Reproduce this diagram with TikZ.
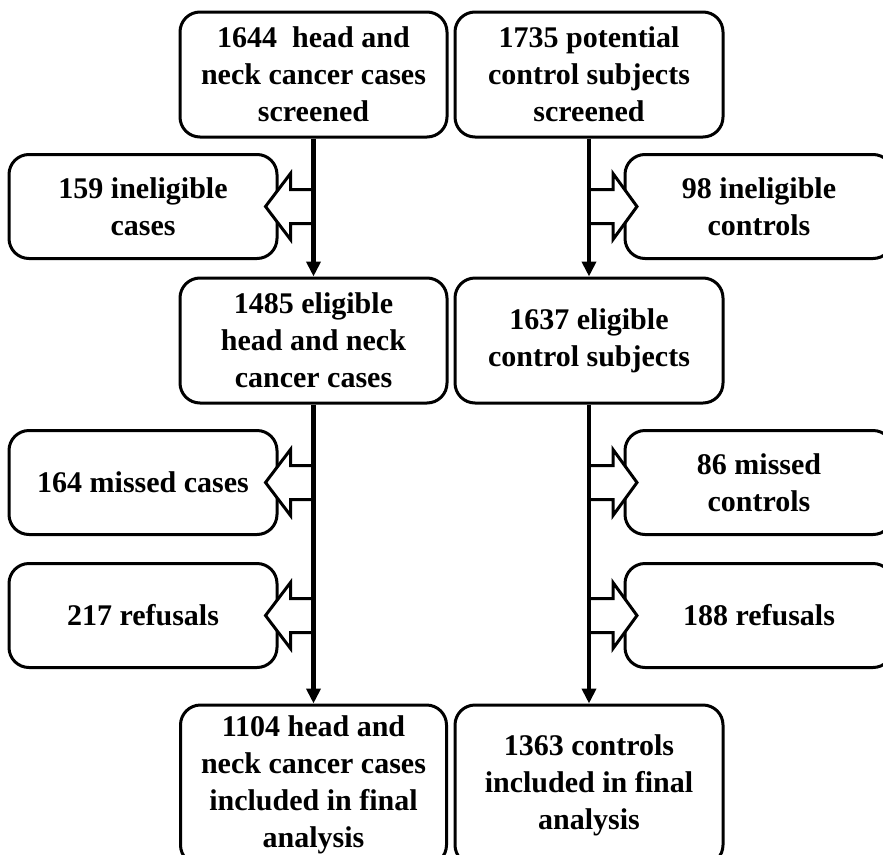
\documentclass[tikz,border=0pt]{standalone}
\usepackage{fontspec}
\setmainfont{Liberation Serif}
\usetikzlibrary{arrows.meta}
\begin{document}
\begin{tikzpicture}[x=1pt,y=-1pt,
  box/.style={draw, line width=3pt, rounded corners=20pt, align=center,
    font=\fontsize{30}{37}\selectfont\bfseries, inner sep=0pt},
  mainbox/.style={box, minimum width=267pt, minimum height=125pt},
  sidebox/.style={box, minimum width=268pt, minimum height=104pt},
  endbox/.style={box, minimum width=266pt, minimum height=160pt},
  flow/.style={line width=4.3pt, -{Triangle[length=15pt,width=14pt]}},
  barrow/.style={draw, fill=white, line width=3pt, miter limit=10},
  barrowL/.pic={\path[barrow] (0,-17) -- (-23,-17) -- (-23,-33) -- (-48,0) -- (-23,33) -- (-23,17) -- (0,17);},
  barrowR/.pic={\path[barrow] (0,-17) -- (24,-17) -- (24,-33) -- (48,0) -- (24,33) -- (24,17) -- (0,17);}]
\useasboundingbox (0,0) rectangle (883,854);
\clip (0,0) rectangle (883,854);
% main column boxes
\node[mainbox] (A) at (313.5,74.5) {1644 \ head and\\neck cancer cases\\screened};
\node[mainbox, minimum width=268pt] (B) at (589,74.5) {1735 potential\\control subjects\\screened};
\node[mainbox] (C) at (313.5,340.5) {1485 eligible\\head and neck\\cancer cases};
\node[mainbox, minimum width=268pt] (D) at (589,340.5) {1637 eligible\\control subjects};
\node[endbox] (G) at (313.5,785) {1104 head and\\neck cancer cases\\included in final\\analysis};
\node[endbox, minimum width=268pt] (H) at (589,785) {1363 controls\\included in final\\analysis};
% side boxes
\node[sidebox] (E1) at (143,206.5) {159 ineligible\\cases};
\node[sidebox] (E2) at (143,482.5) {164 missed cases};
\node[sidebox] (E3) at (143,615.5) {217 refusals};
\node[sidebox] (F1) at (759,206.5) {98 ineligible\\controls};
\node[sidebox] (F2) at (759,482.5) {86 missed\\controls};
\node[sidebox] (F3) at (759,615.5) {188 refusals};
% block arrows
\pic at (A.south |- E1.east) {barrowL};
\pic at (C.south |- E2.east) {barrowL};
\pic at (C.south |- E3.east) {barrowL};
\pic at (B.south |- F1.west) {barrowR};
\pic at (D.south |- F2.west) {barrowR};
\pic at (D.south |- F3.west) {barrowR};
% flow lines
\draw[flow] (A.south) -- (C.north);
\draw[flow] (C.south) -- (G.north);
\draw[flow] (B.south) -- (D.north);
\draw[flow] (D.south) -- (H.north);
\end{tikzpicture}
\end{document}
